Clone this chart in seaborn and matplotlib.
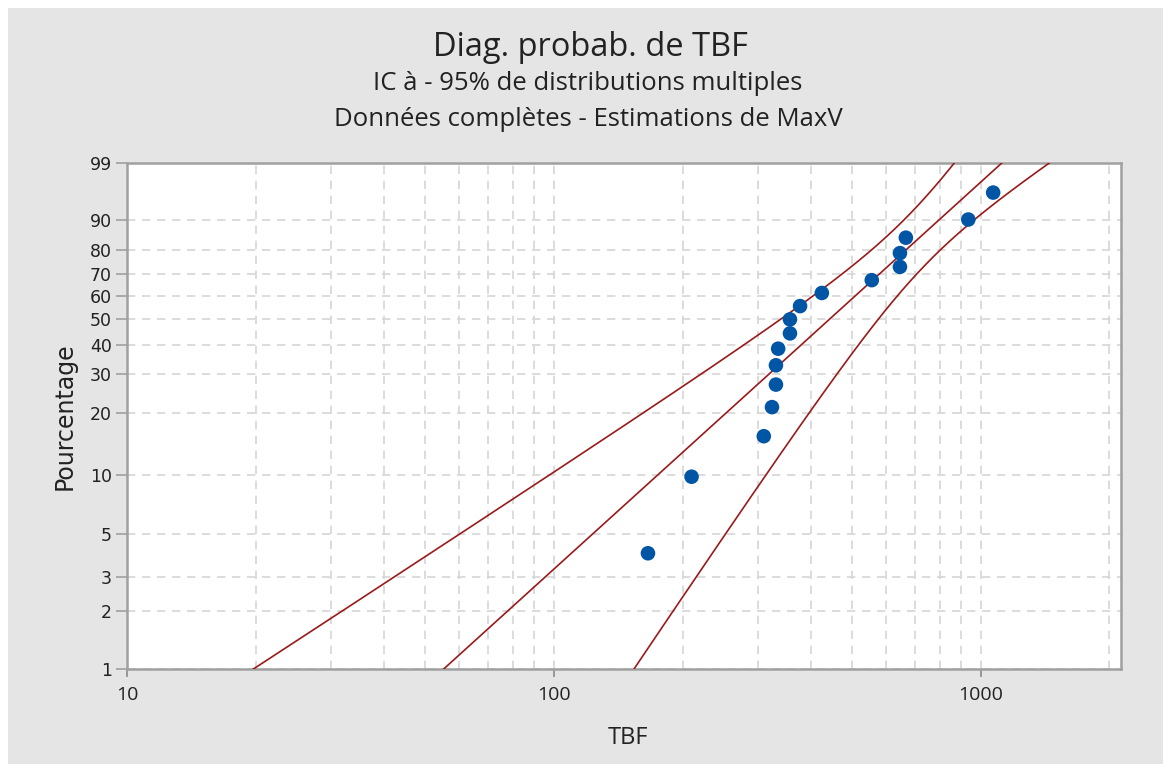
import numpy as np
import pandas as pd
import matplotlib
matplotlib.use("Agg")
import matplotlib.pyplot as plt
import seaborn as sns
from matplotlib.patches import Rectangle
from matplotlib.ticker import FixedLocator, FixedFormatter, NullFormatter, LogLocator

# ---------------- data ----------------
tbf = [166, 210, 310, 324, 331, 331, 335, 357, 357, 377, 424, 555, 646, 646, 667, 934, 1068]
pct = [4.0, 9.8, 15.5, 21.3, 27.0, 32.8, 38.5, 44.3, 50.0, 55.7, 61.5, 67.2, 73.0, 78.7, 84.5, 90.2, 96.0]
y_ticks = [1, 2, 3, 5, 10, 20, 30, 40, 50, 60, 70, 80, 90, 99]
x_ticks = [10, 100, 1000]
x_tick_labels = ["10", "100", "1000"]

# Weibull ML fit (log-location / scale form) and its covariance for the 95% CI
fit_u = 6.270      # ln(scale)
fit_b = 0.4912     # 1/shape
var_u = 0.012389
cov_ub = -0.005935
var_b = 0.009784
z95 = 1.96

title = "Diag. probab. de TBF"
sub1 = "IC à - 95% de distributions multiples"
sub2 = "Données complètes - Estimations de MaxV"
xlabel = "TBF"
ylabel = "Pourcentage"

# ---------------- fitted line and confidence bands ----------------
p_grid = np.linspace(0.5, 99.5, 600)
w = np.log(-np.log(1 - p_grid / 100))
mid = fit_u + fit_b * w
se = np.sqrt(var_u + 2 * w * cov_ub + w ** 2 * var_b)
lines = pd.concat([
    pd.DataFrame({"t": np.exp(mid - z95 * se), "p": p_grid, "curve": "lo"}),
    pd.DataFrame({"t": np.exp(mid), "p": p_grid, "curve": "fit"}),
    pd.DataFrame({"t": np.exp(mid + z95 * se), "p": p_grid, "curve": "hi"}),
])
pts = pd.DataFrame({"TBF": tbf, "Pourcentage": pct})

# ---------------- figure ----------------
W, H = 1171, 771
fig = plt.figure(figsize=(W / 100, H / 100), dpi=100, facecolor="white")
fig.patches.append(Rectangle((8 / W, 7 / H), (W - 16) / W, (H - 15) / H,
                             transform=fig.transFigure, facecolor="#E5E5E5",
                             edgecolor="none", zorder=-10))

ax = fig.add_axes([127 / W, 1 - 669 / H, (1121 - 127) / W, (669 - 163) / H])
ax.set_facecolor("white")


def fwd(p):
    p = np.clip(np.asarray(p, dtype=float), 1e-9, 100 - 1e-9)
    return np.log(-np.log(1 - p / 100))


def inv(v):
    return 100 * (1 - np.exp(-np.exp(np.asarray(v, dtype=float))))


ax.set_xscale("log")
ax.set_yscale("function", functions=(fwd, inv))

for name in ["lo", "fit", "hi"]:
    sns.lineplot(data=lines[lines.curve == name], x="t", y="p", sort=False,
                 estimator=None, color="#9A1A1A", lw=1.2, ax=ax, zorder=3)

sns.scatterplot(data=pts, x="TBF", y="Pourcentage", color="#0055A5", s=110,
                edgecolor="none", ax=ax, zorder=4)

ax.set_xlim(10, 2128)
ax.set_ylim(1, 99)

ax.yaxis.set_major_locator(FixedLocator(y_ticks))
ax.yaxis.set_major_formatter(FixedFormatter([str(v) for v in y_ticks]))
ax.yaxis.set_minor_locator(FixedLocator([]))
ax.xaxis.set_major_locator(FixedLocator(x_ticks))
ax.xaxis.set_major_formatter(FixedFormatter(x_tick_labels))
ax.xaxis.set_minor_locator(LogLocator(base=10, subs=np.arange(2, 10)))
ax.xaxis.set_minor_formatter(NullFormatter())

dash = (0, (5, 4))
ax.grid(True, which="both", axis="x", color="#D6D6D6", lw=1.2, ls=dash, zorder=0)
ax.grid(True, which="major", axis="y", color="#D6D6D6", lw=1.2, ls=dash, zorder=0)
ax.set_axisbelow(True)

ax.tick_params(axis="y", which="major", length=8, width=1.2, color="#A0A0A0",
               labelsize=12.5, labelcolor="#222222", pad=3)
ax.tick_params(axis="x", which="major", length=6, width=1.2, color="#8A8A8A",
               labelsize=14, labelcolor="#222222", pad=6)
ax.tick_params(axis="x", which="minor", length=0)
for lab in ax.get_yticklabels():
    lab.set_family("DejaVu Sans")
for lab in ax.get_xticklabels():
    lab.set_family("Open Sans")

for sp in ax.spines.values():
    sp.set_visible(True)
    sp.set_color("#A0A0A0")
    sp.set_linewidth(1.8)

ax.set_xlabel("")
ax.set_ylabel("")

fig.text(590 / W, 1 - 48 / H, title, ha="center", va="center", fontsize=23.5,
         family="Open Sans", color="#222222")
fig.text(588 / W, 1 - 84 / H, sub1, ha="center", va="center", fontsize=18.5,
         family="Open Sans", color="#222222")
fig.text(588 / W, 1 - 119 / H, sub2, ha="center", va="center", fontsize=18.5,
         family="Open Sans", color="#222222")
fig.text(628 / W, 1 - 738 / H, xlabel, ha="center", va="center", fontsize=17,
         family="Open Sans", color="#222222")
fig.text(65 / W, 1 - 416 / H, ylabel, ha="center", va="center", fontsize=17,
         rotation=90, family="DejaVu Sans", color="#222222")

fig.savefig("out.png", dpi=100, facecolor=fig.get_facecolor())
